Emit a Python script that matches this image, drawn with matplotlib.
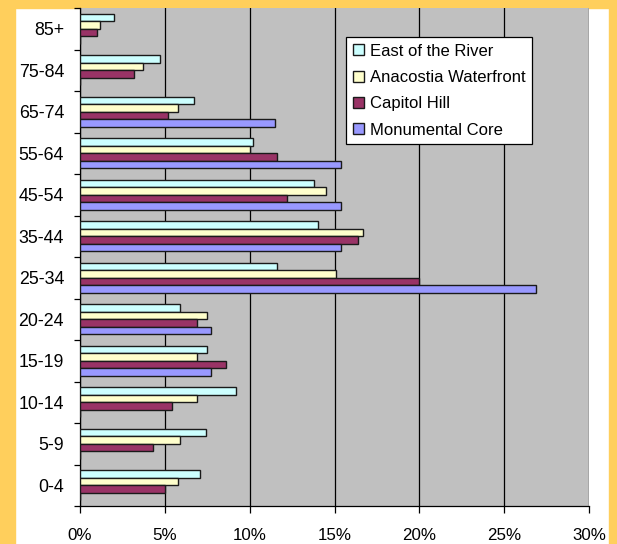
import numpy as np
import matplotlib
matplotlib.use('Agg')
import matplotlib.pyplot as plt

plt.rcParams['font.family'] = ['Liberation Sans', 'DejaVu Sans']

age_groups = ['0-4', '5-9', '10-14', '15-19', '20-24', '25-34', '35-44',
              '45-54', '55-64', '65-74', '75-84', '85+']
east_river = [7.1, 7.4, 9.2, 7.5, 5.9, 11.6, 14.0, 13.8, 10.2, 6.7, 4.7, 2.0]
anacostia = [5.8, 5.9, 6.9, 6.9, 7.5, 15.1, 16.7, 14.5, 10.0, 5.8, 3.7, 1.2]
capitol_hill = [5.0, 4.3, 5.4, 8.6, 6.9, 20.0, 16.4, 12.2, 11.6, 5.2, 3.2, 1.0]
monumental = [0, 0, 0, 7.7, 7.7, 26.9, 15.4, 15.4, 15.4, 11.5, 0, 0]

series = [
    ('East of the River', east_river, '#CCFFFF'),
    ('Anacostia Waterfront', anacostia, '#FFFFCC'),
    ('Capitol Hill', capitol_hill, '#993366'),
    ('Monumental Core', monumental, '#9999FF'),
]

W, H = 617, 544
fig = plt.figure(figsize=(W / 100, H / 100), dpi=100)
fig.patch.set_facecolor('white')

# yellow frame strips (left, top, right)
border = '#FFCF5C'
fig.add_artist(plt.Rectangle((0, 0), 15 / W, 1, color=border, transform=fig.transFigure, zorder=0))
fig.add_artist(plt.Rectangle((0, 1 - 8 / H), 1, 8 / H, color=border, transform=fig.transFigure, zorder=0))
fig.add_artist(plt.Rectangle((609 / W, 0), 8 / W, 1, color=border, transform=fig.transFigure, zorder=0))

ax = fig.add_axes([80 / W, 1 - 506 / H, 509 / W, 498 / H])
ax.set_facecolor('#C0C0C0')

y = np.arange(len(age_groups))
h = 0.178
offsets = [1.5 * h, 0.5 * h, -0.5 * h, -1.5 * h]
for (name, vals, color), off in zip(series, offsets):
    ax.barh(y + off, vals, height=h, color=color, edgecolor='#1a1a1a',
            linewidth=1.0, label=name, zorder=3)

ax.set_xlim(0, 30)
ax.set_ylim(-0.5, len(age_groups) - 0.5)
ax.set_xticks(np.arange(0, 31, 5))
ax.set_xticklabels([f'{v}%' for v in range(0, 31, 5)])
ax.xaxis.grid(True, color='black', linewidth=0.9, zorder=1)
ax.set_axisbelow(True)

# category boundary ticks on y axis, labels centred per category
ax.set_yticks(np.arange(-0.5, len(age_groups), 1))
ax.set_yticklabels([])
ax.set_yticks(y, minor=True)
ax.set_yticklabels(age_groups, minor=True)
ax.tick_params(axis='y', which='minor', length=0, pad=11.5, labelsize=12.8)
ax.tick_params(axis='y', which='major', length=4, width=0.9, direction='out')
ax.tick_params(axis='x', length=5, width=0.9, direction='out', pad=11, labelsize=12.2)

for s in ['top', 'right']:
    ax.spines[s].set_visible(False)
for s in ['left', 'bottom']:
    ax.spines[s].set_color('black')
    ax.spines[s].set_linewidth(0.9)

leg = ax.legend(loc='upper left', bbox_to_anchor=((346 - 80) / 509, 1 - (37 - 8) / 498),
                frameon=True, fancybox=False, fontsize=12, handlelength=0.65,
                handleheight=0.65, handletextpad=0.4, labelspacing=0.68,
                borderpad=0.4, borderaxespad=0)
leg.get_frame().set_edgecolor('black')
leg.get_frame().set_linewidth(0.9)
leg.get_frame().set_facecolor('white')
leg.get_frame().set_alpha(1)

plt.savefig('out.png', dpi=100)
